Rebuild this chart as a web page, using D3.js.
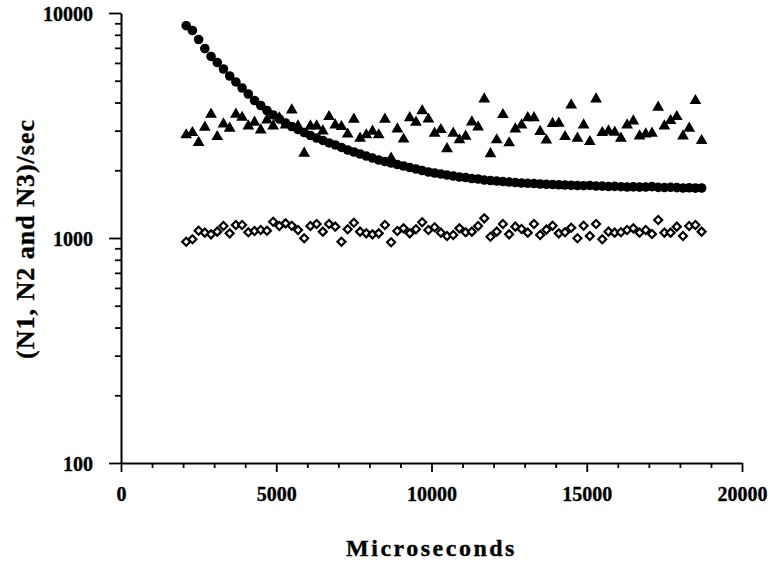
<!DOCTYPE html>
<html>
<head>
<meta charset="utf-8">
<script src="https://cdn.jsdelivr.net/npm/d3@7"></script>
<style>
  body { margin: 0; background: #fff; }
  svg text { font-family: "Liberation Serif", "Times New Roman", serif; font-weight: bold; fill: #000;
    stroke: #000; stroke-width: 0.35px; }
</style>
</head>
<body>
<div id="chart"></div>
<script>
// sample times (microseconds)
var times = [2100, 2300, 2500, 2700, 2900, 3100, 3300, 3500, 3700, 3900, 4100, 4300, 4500, 4700,
  4900, 5100, 5300, 5500, 5700, 5900, 6100, 6300, 6500, 6700, 6900, 7100, 7300, 7500, 7700, 7900,
  8100, 8300, 8500, 8700, 8900, 9100, 9300, 9500, 9700, 9900, 10100, 10300, 10500, 10700, 10900,
  11100, 11300, 11500, 11700, 11900, 12100, 12300, 12500, 12700, 12900, 13100, 13300, 13500, 13700,
  13900, 14100, 14300, 14500, 14700, 14900, 15100, 15300, 15500, 15700, 15900, 16100, 16300, 16500,
  16700, 16900, 17100, 17300, 17500, 17700, 17900, 18100, 18300, 18500, 18700];

// N1 (filled circles)
var n1 = [8780, 8360, 7625, 6954, 6409, 6026, 5637, 5248, 4937, 4642,
  4365, 4084, 3880, 3687, 3522, 3380, 3244, 3130, 3035, 2944,
  2855, 2783, 2713, 2645, 2591, 2526, 2461, 2411, 2362, 2313,
  2267, 2221, 2188, 2154, 2121, 2089, 2057, 2026, 1995, 1965,
  1945, 1925, 1905, 1886, 1867, 1857, 1838, 1829, 1810, 1801,
  1791, 1782, 1773, 1764, 1755, 1750, 1746, 1738, 1732, 1729,
  1724, 1720, 1716, 1711, 1708, 1712, 1702, 1700, 1694, 1696,
  1690, 1685, 1688, 1683, 1685, 1692, 1678, 1676, 1680, 1674,
  1668, 1672, 1666, 1668];

// N2 (filled triangles)
var n2 = [2870, 2938, 2653, 3105, 3547, 2820, 3211, 3074, 3547, 3433,
  3146, 3267, 3020, 3345, 3146, 3415, 3178, 3706, 3146, 2379,
  3146, 3146, 2989, 3461, 3178, 3124, 2893, 3370, 2774, 2870,
  2980, 2870, 3370, 2261, 3051, 2749, 3422, 3267, 3676, 3373,
  2920, 3029, 2491, 2920, 2727, 2831, 3277, 3114, 4147, 2367,
  2727, 3532, 2645, 3051, 3178, 3422, 3422, 2974, 2721, 3227,
  3234, 2820, 3900, 2774, 3178, 2679, 4147, 2938, 2989, 2950,
  2774, 3178, 3311, 2840, 2898, 2920, 3809, 3146, 3321, 3461,
  2840, 3074, 4076, 2707];

// N3 (open diamonds)
var n3 = [963, 987, 1077, 1056, 1038, 1067, 1130, 1049, 1142, 1142,
  1060, 1074, 1085, 1077, 1181, 1130, 1162, 1134, 1085, 997,
  1130, 1154, 1067, 1154, 1123, 963, 1094, 1169, 1067, 1049,
  1038, 1049, 1142, 957, 1074, 1104, 1049, 1093, 1175, 1085,
  1116, 1056, 1021, 1031, 1104, 1060, 1067, 1130, 1223, 1013,
  1067, 1154, 1038, 1123, 1096, 1056, 1154, 1031, 1089, 1133,
  1049, 1060, 1111, 997, 1134, 1021, 1154, 987, 1067, 1056,
  1060, 1085, 1104, 1056, 1085, 1042, 1202, 1056, 1056, 1123,
  1021, 1130, 1142, 1067];

var xTicks = [0, 5000, 10000, 15000, 20000];
var xMinor = [1000, 2000, 3000, 4000, 6000, 7000, 8000, 9000, 11000, 12000, 13000, 14000,
  16000, 17000, 18000, 19000];
var yTicks = [100, 1000, 10000];
var yMinor = [200, 300, 400, 500, 600, 700, 800, 900, 2000, 3000, 4000, 5000, 6000, 7000, 8000, 9000];

var width = 772, height = 562;
var margin = { left: 121, right: 30, top: 13, bottom: 99 };

var svg = d3.select('#chart').append('svg')
  .attr('width', width)
  .attr('height', height);

var x = d3.scaleLinear()
  .domain([0, 20000])
  .range([margin.left, width - margin.right]);

var y = d3.scaleLog()
  .domain([100, 10000])
  .range([height - margin.bottom, margin.top]);

// axes
var xAxis = svg.append('g')
  .attr('transform', 'translate(0,' + (height - margin.bottom) + ')')
  .call(d3.axisBottom(x).tickValues(xTicks).tickSize(9).tickSizeOuter(0).tickPadding(15)
    .tickFormat(d3.format('d')));
svg.append('g')
  .attr('transform', 'translate(0,' + (height - margin.bottom) + ')')
  .call(d3.axisBottom(x).tickValues(xMinor).tickSize(5).tickFormat(''))
  .select('.domain').remove();

var yAxis = svg.append('g')
  .attr('transform', 'translate(' + margin.left + ',0)')
  .call(d3.axisLeft(y).tickValues(yTicks).tickSize(12).tickSizeOuter(0).tickPadding(16)
    .tickFormat(d3.format('d')));
svg.append('g')
  .attr('transform', 'translate(' + margin.left + ',0)')
  .call(d3.axisLeft(y).tickValues(yMinor).tickSize(6).tickFormat(''))
  .select('.domain').remove();

svg.selectAll('.domain').attr('stroke', '#000').attr('stroke-width', 2);
svg.selectAll('.tick line').attr('stroke', '#000').attr('stroke-width', 1.8);
xAxis.selectAll('text').style('font-size', '20px');
yAxis.selectAll('text').style('font-size', '20px').attr('dy', '0.36em');

// axis titles
svg.append('text')
  .attr('x', x(10000))
  .attr('y', 556)
  .attr('text-anchor', 'middle')
  .style('font-size', '24px')
  .style('letter-spacing', '2.5px')
  .text('Microseconds');

svg.append('text')
  .attr('transform', 'translate(34,' + (y(1000) + 1) + ') rotate(-90)')
  .attr('text-anchor', 'middle')
  .style('font-size', '26px')
  .style('letter-spacing', '1px')
  .text('(N1, N2 and N3)/sec');

// N3 diamonds
var diamond = d3.symbol().type(d3.symbolSquare).size(32);
svg.append('g')
  .selectAll('path')
  .data(n3)
  .enter().append('path')
  .attr('d', diamond)
  .attr('transform', function (d, i) { return 'translate(' + x(times[i]) + ',' + y(d) + ') rotate(45)'; })
  .attr('fill', '#fff')
  .attr('stroke', '#000')
  .attr('stroke-width', 2.2);

// N2 triangles
var tri = d3.symbol().type(d3.symbolTriangle).size(60);
svg.append('g')
  .selectAll('path')
  .data(n2)
  .enter().append('path')
  .attr('d', tri)
  .attr('transform', function (d, i) { return 'translate(' + x(times[i]) + ',' + y(d) + ')'; })
  .attr('fill', '#000');

// N1 circles
svg.append('g')
  .selectAll('circle')
  .data(n1)
  .enter().append('circle')
  .attr('cx', function (d, i) { return x(times[i]); })
  .attr('cy', function (d) { return y(d); })
  .attr('r', 4.8)
  .attr('fill', '#000');
</script>
</body>
</html>
